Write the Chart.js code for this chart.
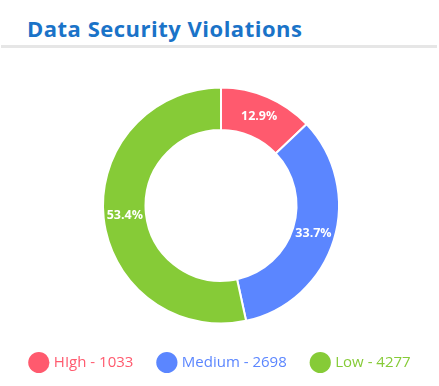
<!DOCTYPE html>
<html>
<head>
<meta charset="utf-8">
<script src="https://cdn.jsdelivr.net/npm/chart.js@4/dist/chart.umd.min.js"></script>
<style>
  html, body { margin: 0; padding: 0; background: #fff; width: 439px; height: 386px; overflow: hidden; position: relative; }
  #title { position: absolute; left: 27px; top: 13px; font-family: "Open Sans", sans-serif; font-weight: 700; font-size: 22px; color: #1a73c8; letter-spacing: 0.5px; white-space: nowrap; }
  #rule { position: absolute; left: 1px; top: 45px; width: 436px; height: 3px; background: #e6e6e6; }
  #wrap { position: absolute; left: 2px; top: 82px; width: 438px; height: 298px; }
</style>
</head>
<body>
<div id="title">Data Security Violations</div>
<div id="rule"></div>
<div id="wrap"><canvas id="c"></canvas></div>
<script>
const categories = ["HIgh", "Medium", "Low"];
const counts = [1033, 2698, 4277];
const colors = ["#ff5a6e", "#5b86ff", "#86cb37"];

const total = counts.reduce((a, b) => a + b, 0);

const pctLabels = {
  id: 'pctLabels',
  afterDatasetsDraw(chart) {
    const ctx = chart.ctx;
    const meta = chart.getDatasetMeta(0);
    ctx.save();
    ctx.font = 'bold 12.5px "Open Sans", sans-serif';
    ctx.fillStyle = '#ffffff';
    ctx.textAlign = 'center';
    ctx.textBaseline = 'middle';
    meta.data.forEach((arc, i) => {
      const p = arc.tooltipPosition();
      const pct = (counts[i] / total * 100).toFixed(1) + '%';
      ctx.fillText(pct, p.x, p.y);
    });
    ctx.restore();
  }
};

new Chart(document.getElementById('c'), {
  type: 'doughnut',
  data: {
    labels: categories,
    datasets: [{
      data: counts,
      backgroundColor: colors,
      borderColor: '#ffffff',
      borderWidth: 2,
      hoverOffset: 0,
      radius: 118
    }]
  },
  options: {
    responsive: true,
    maintainAspectRatio: false,
    animation: false,
    cutout: '64%',
    layout: { padding: 0 },
    plugins: {
      tooltip: { enabled: false },
      legend: {
        position: 'bottom',
        labels: {
          usePointStyle: true,
          pointStyle: 'circle',
          padding: 26,
          font: { family: '"Open Sans", sans-serif', size: 15 },
          generateLabels(chart) {
            return categories.map((c, i) => ({
              text: c + ' - ' + counts[i],
              fillStyle: colors[i],
              strokeStyle: colors[i],
              fontColor: colors[i],
              lineWidth: 0,
              pointStyle: 'circle',
              hidden: false,
              index: i
            }));
          }
        }
      }
    }
  },
  plugins: [pctLabels]
});
</script>
</body>
</html>
